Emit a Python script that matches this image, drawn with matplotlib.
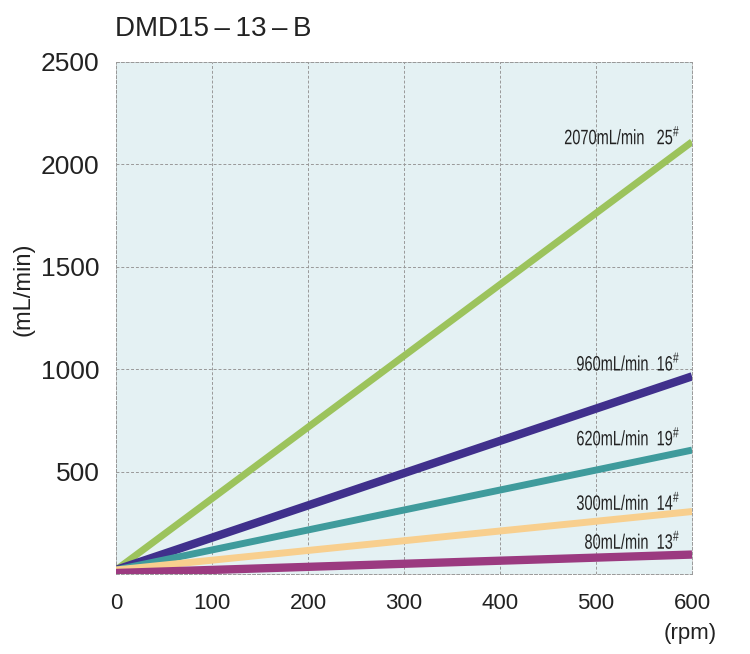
import matplotlib
matplotlib.use("Agg")
import matplotlib.pyplot as plt
from matplotlib.textpath import TextPath
from matplotlib.patches import PathPatch
from matplotlib.font_manager import FontProperties
import matplotlib.transforms as mtransforms

# data
rpm = [0, 600]
flows = {
    "25": [20, 2110],
    "16": [20, 965],
    "19": [20, 605],
    "14": [20, 305],
    "13": [5, 95],
}
labels = {
    "25": "2070mL/min   25$^{\\#}$",
    "16": "960mL/min  16$^{\\#}$",
    "19": "620mL/min  19$^{\\#}$",
    "14": "300mL/min  14$^{\\#}$",
    "13": "80mL/min  13$^{\\#}$",
}
label_y = {"25": 2135, "16": 1030, "19": 665, "14": 350, "13": 160}
colores = {
    "25": "#9cc35c",
    "16": "#40308c",
    "19": "#3f9b9c",
    "14": "#f8cf8e",
    "13": "#9b3a80",
}
larguras = {"25": 5, "16": 6, "19": 5, "14": 5, "13": 6}
xticks = [0, 100, 200, 300, 400, 500, 600]
yticks = [500, 1000, 1500, 2000, 2500]

plt.rcParams['font.family'] = ['Liberation Sans', 'DejaVu Sans']
plt.rcParams['mathtext.fontset'] = 'custom'
plt.rcParams['mathtext.rm'] = 'Liberation Sans'

DPI = 100
fig = plt.figure(figsize=(7.5, 6.54), dpi=DPI)
ax = fig.add_axes([0.1547, 0.1223, 0.768, 0.783])
ax.set_facecolor("#e4f1f3")

ax.set_xlim(0, 600)
ax.set_ylim(0, 2500)

# texto estreito: TextPath comprimido na horizontal
prop = FontProperties(family='Liberation Sans')
aperto = 0.7
tamanho = 15

for k in flows:
    ax.plot(rpm, flows[k], color=colores[k], lw=larguras[k], solid_capstyle='butt', zorder=3)
    tp = TextPath((0, 0), labels[k], size=tamanho, prop=prop)
    ext = tp.get_extents()
    px, py = ax.transData.transform((586, label_y[k]))
    sx = aperto * DPI / 72
    sy = DPI / 72
    tr = mtransforms.Affine2D().translate(-ext.x1, -(ext.y0 + ext.y1) / 2 + 1).scale(sx, sy).translate(px, py)
    fig.patches.append(PathPatch(tp, transform=tr, facecolor="#222222", edgecolor="none", figure=fig))

ax.set_xticks(xticks)
ax.set_yticks(yticks)
ax.tick_params(axis='x', length=0, pad=14, labelsize=16, labelcolor="#222222")
ax.tick_params(axis='y', length=0, pad=12, labelsize=19, labelcolor="#222222")
ax.grid(True, color="#999999", ls=(0, (3, 2)), lw=0.7)
for s in ax.spines.values():
    s.set_color("#999999")
    s.set_linestyle((0, (3, 2)))
    s.set_linewidth(0.7)

fig.text(0.153, 0.956, "DMD15\u2009\u2013\u200913\u2009\u2013\u2009B", fontsize=20, ha='left', va='center',
         color="#222222", family=['Liberation Sans', 'DejaVu Sans'])
fig.text(0.031, 0.557, "(mL/min)", rotation=90, fontsize=17, ha='center', va='center', color="#222222")
fig.text(0.92, 0.032, "(rpm)", fontsize=16, ha='center', va='center', color="#222222")

fig.savefig("out.png", dpi=DPI)
